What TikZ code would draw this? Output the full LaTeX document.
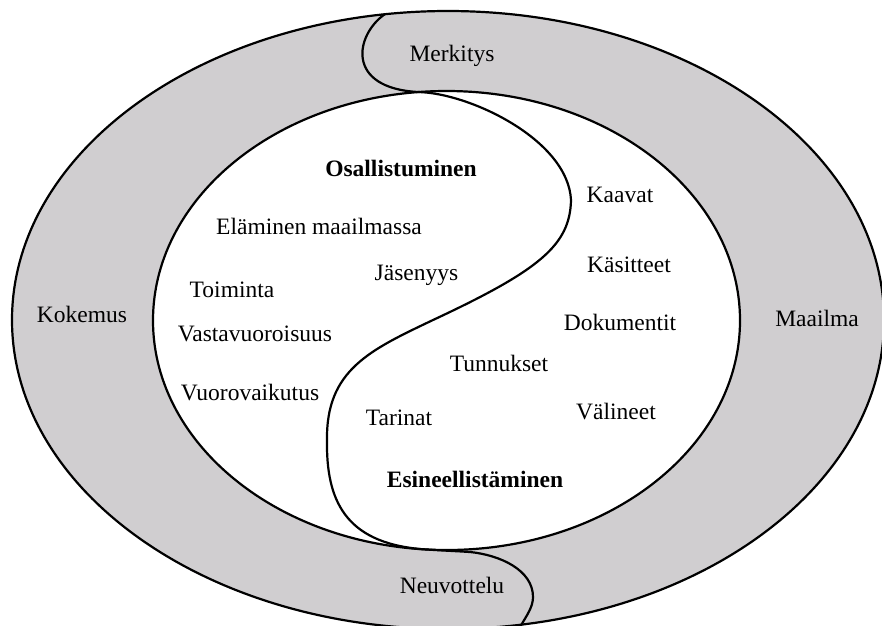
\documentclass[tikz,border=0pt]{standalone}
\usepackage{fontspec}
\setmainfont{Liberation Serif}
\definecolor{ringgray}{RGB}{208,206,208}
\begin{document}
\begin{tikzpicture}[x=1pt,y=-1pt,
  ringline/.style={line width=2.2pt, draw=black},
  sline/.style={line width=2.2pt, draw=black, line join=round},
  lbl/.style={anchor=base, inner sep=0pt, font=\fontsize{23.5}{28}\selectfont},
  lblbold/.style={lbl, font=\fontsize{23.5}{28}\selectfont\bfseries}]
  \useasboundingbox (0,0) rectangle (882,625);
  \clip (0,0) rectangle (882,625);

  % outer ring and inner field
  \fill[ringgray] (448,320) ellipse [x radius=436, y radius=309];
  \draw[ringline] (448,320) ellipse [x radius=436, y radius=309];
  \fill[white] (446.5,320.5) ellipse [x radius=293.5, y radius=229.5];
  \draw[ringline] (446.5,320.5) ellipse [x radius=293.5, y radius=229.5];

  % dividing S-curve from top to bottom
  \draw[sline] (385,14) .. controls (355,35) and (345,88) .. (418,92)
    .. controls (470,93) and (568,140) .. (571,200)
    .. controls (570,245) and (540,270) .. (433,320)
    .. controls (370,350) and (326,370) .. (327,440)
    .. controls (326,500) and (345,542) .. (420,549)
    .. controls (440,550.5) and (455,551) .. (470,552)
    .. controls (500,555) and (533,570) .. (533,597)
    .. controls (533,607) and (527,615) .. (520,627);

  % ring labels
  \node[lbl] (merkitys) at (452,61.5) {Merkitys};
  \node[lbl] (neuvottelu) at (452,593.5) {Neuvottelu};
  \node[lbl] (kokemus) at (82,322.5) {Kokemus};
  \node[lbl] (maailma) at (817,326.5) {Maailma};

  % left field
  \node[lblbold] (osall) at (401,176.5) {Osallistuminen};
  \node[lbl] (elaminen) at (319,234.5) {Eläminen maailmassa};
  \node[lbl] (jasenyys) at (416.5,280.5) {Jäsenyys};
  \node[lbl] (toiminta) at (232,297.5) {Toiminta};
  \node[lbl] (vastav) at (255,341.5) {Vastavuoroisuus};
  \node[lbl] (vuorov) at (250,400.5) {Vuorovaikutus};

  % right field
  \node[lbl] (kaavat) at (620,202.5) {Kaavat};
  \node[lbl] (kasitteet) at (629,272.5) {Käsitteet};
  \node[lbl] (dokumentit) at (620,330.5) {Dokumentit};
  \node[lbl] (tunnukset) at (499,371.5) {Tunnukset};
  \node[lbl] (valineet) at (616,419.5) {Välineet};
  \node[lbl] (tarinat) at (399,425) {Tarinat};
  \node[lblbold] (esine) at (475,487.5) {Esineellistäminen};
\end{tikzpicture}
\end{document}
